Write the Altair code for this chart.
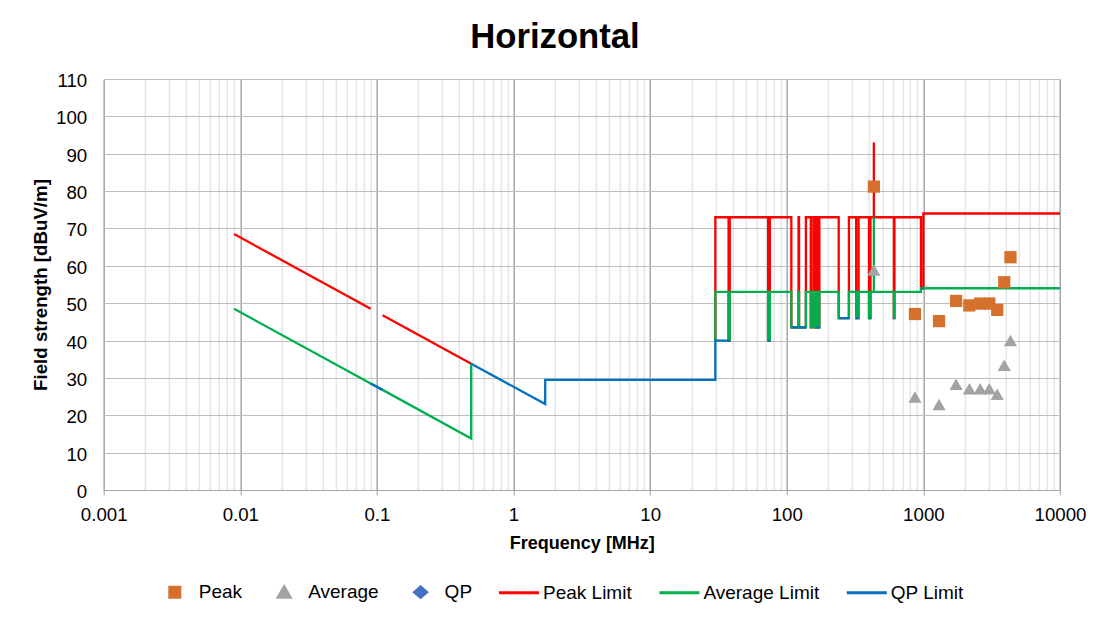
import altair as alt
import pandas as pd

# ---------------- data ----------------
series_names = ["Peak", "Average", "QP", "Peak Limit", "Average Limit", "QP Limit"]
series_colors = ["#D5712D", "#A3A3A3", "#4472C4", "#FF0000", "#00B050", "#0070C0"]
# legend glyphs as unit-box SVG paths (box = 40 px wide in the legend)
legend_glyphs = [
    "M-0.25,-0.25L0.25,-0.25L0.25,0.25L-0.25,0.25Z",
    "M0,-0.26L0.3,0.26L-0.3,0.26Z",
    "M0,-0.26L0.3,0L0,0.26L-0.3,0Z",
    "M-1,0L1,0",
    "M-1,0L1,0",
    "M-1,0L1,0",
]
legend_stroke = ["transparent", "transparent", "transparent", "#FF0000", "#00B050", "#0070C0"]

peak_freq = [433.92, 867.84, 1301.76, 1735.68, 2169.6, 2603.52, 3037.44, 3471.36, 3905.28, 4339.2]
peak_level = [81.2, 47.1, 45.2, 50.6, 49.4, 49.9, 49.9, 48.2, 55.6, 62.3]

avg_freq = [433.92, 867.84, 1301.76, 1735.68, 2169.6, 2603.52, 3037.44, 3471.36, 3905.28, 4339.2]
avg_level = [58.9, 24.9, 22.9, 28.3, 27.1, 27.1, 27.1, 25.6, 33.4, 40.0]

# limit lines (None = break in the line)
peak_limit_freq = [0.009, 0.09, None, 0.11, 0.49, None,
                   30, 30, 37.5, 37.5, 38.25, 38.25, 73, 73, 74.6, 74.6, 74.8, 74.8, 75.2, 75.2,
                   108, 108, 121.94, 121.94, 123, 123, 138, 138,
                   149.9, 149.9, 150.05, 150.05, 156.52475, 156.52475, 156.52525, 156.52525,
                   156.7, 156.7, 156.9, 156.9, 162.0125, 162.0125, 167.17, 167.17, 167.72, 167.72, 173.2, 173.2,
                   240, 240, 285, 285, 322, 322, 335.4, 335.4, 399.9, 399.9, 410, 410,
                   433.92, 433.92, 433.92, 608, 608, 614, 614, 960, 960, 1000, 1000, 10000]
peak_limit_level = [68.5, 48.5, None, 46.8, 33.8, None,
                    40, 73, 73, 40, 40, 73, 73, 40, 40, 73, 73, 40, 40, 73,
                    73, 43.5, 43.5, 73, 73, 43.5, 43.5, 73,
                    73, 43.5, 43.5, 73, 73, 43.5, 43.5, 73,
                    73, 43.5, 43.5, 73, 73, 43.5, 43.5, 73, 73, 43.5, 43.5, 73,
                    73, 46, 46, 73, 73, 46, 46, 73, 73, 46, 46, 73,
                    73, 93, 73, 73, 46, 46, 73, 73, 54, 54, 74, 74]

avg_limit_freq = [0.009, 0.09, 0.11, 0.49, 0.49, None,
                  30, 30, 37.5, 37.5, 38.25, 38.25, 73, 73, 74.6, 74.6, 74.8, 74.8, 75.2, 75.2,
                  108, 108, 121.94, 121.94, 123, 123, 138, 138,
                  149.9, 149.9, 150.05, 150.05, 156.52475, 156.52475, 156.52525, 156.52525,
                  156.7, 156.7, 156.9, 156.9, 162.0125, 162.0125, 167.17, 167.17, 167.72, 167.72, 173.2, 173.2,
                  240, 240, 285, 285, 322, 322, 335.4, 335.4, 399.9, 399.9, 410, 410,
                  433.92, 433.92, 433.92, 608, 608, 614, 614, 960, 960, 10000]
avg_limit_level = [48.5, 28.5, 26.8, 13.8, 33.8, None,
                   40, 53, 53, 40, 40, 53, 53, 40, 40, 53, 53, 40, 40, 53,
                   53, 43.5, 43.5, 53, 53, 43.5, 43.5, 53,
                   53, 43.5, 43.5, 53, 53, 43.5, 43.5, 53,
                   53, 43.5, 43.5, 53, 53, 43.5, 43.5, 53, 53, 43.5, 43.5, 53,
                   53, 46, 46, 53, 53, 46, 46, 53, 53, 46, 46, 53,
                   53, 73, 53, 53, 46, 46, 53, 53, 54, 54]

qp_limit_freq = [0.09, 0.11, None, 0.49, 1.705, 1.705, 30, 30, 38.25, None,
                 73, 75.2, None, 108, 121.94, None, 123, 138, None,
                 149.9, 150.05, None, 156.52475, 156.52525, None, 156.7, 156.9, None,
                 162.0125, 167.17, None, 167.72, 173.2, None,
                 240, 285, None, 322, 335.4, None, 399.9, 410, None, 608, 614, None, 960, 1000]
qp_limit_level = [28.5, 26.8, None, 33.8, 23.0, 29.5, 29.5, 40, 40, None,
                  40, 40, None, 43.5, 43.5, None, 43.5, 43.5, None,
                  43.5, 43.5, None, 43.5, 43.5, None, 43.5, 43.5, None,
                  43.5, 43.5, None, 43.5, 43.5, None,
                  46, 46, None, 46, 46, None, 46, 46, None, 46, 46, None, 54, 54]

x_major = [0.001, 0.01, 0.1, 1, 10, 100, 1000, 10000]
y_ticks = [0, 10, 20, 30, 40, 50, 60, 70, 80, 90, 100, 110]

# ---------------- tables ----------------
def line_table(name, freqs, levels):
    rows, seg = [], 0
    for i, (f, v) in enumerate(zip(freqs, levels)):
        if f is None:
            seg += 1
            continue
        rows.append({"series": name, "freq": f, "level": v, "key": f"{name}-{seg}", "idx": i})
    return pd.DataFrame(rows)

peak_limit_df = line_table("Peak Limit", peak_limit_freq, peak_limit_level)
avg_limit_df = line_table("Average Limit", avg_limit_freq, avg_limit_level)
qp_limit_df = line_table("QP Limit", qp_limit_freq, qp_limit_level)
peak_df = pd.DataFrame({"series": "Peak", "freq": peak_freq, "level": peak_level})
avg_df = pd.DataFrame({"series": "Average", "freq": avg_freq, "level": avg_level})

x_values = [m * k for m in x_major[:-1] for k in range(1, 10)] + [x_major[-1]]


def by_series(values):
    """Vega expression choosing a value per legend entry."""
    expr = "'transparent'"
    for name, v in reversed(list(zip(series_names, values))):
        expr = f"(datum.value == '{name}' ? '{v}' : {expr})"
    return expr


FONT = "Liberation Sans"
decade_test = "abs(log(datum.value)/LN10 - round(log(datum.value)/LN10)) < 1e-6"

x_enc = alt.X(
    "freq:Q",
    scale=alt.Scale(type="log", domain=[0.001, 10000]),
    title="Frequency [MHz]",
    axis=alt.Axis(
        values=x_values,
        format="~g",
        labelExpr=f"({decade_test}) ? datum.label : ''",
        labelOverlap=False,
        labelFlush=False,
        labelFont=FONT, labelFontSize=18.7, labelColor="#000000",
        labelPadding=10.5,
        grid=True,
        gridColor={"condition": {"test": decade_test, "value": "#A6A6A6"}, "value": "#D9D9D9"},
        gridWidth={"condition": {"test": decade_test, "value": 1.5}, "value": 1},
        ticks=True, tickSize=5,
        tickColor={"condition": {"test": decade_test, "value": "#A6A6A6"}, "value": "rgba(0,0,0,0)"},
        domain=True, domainColor="#A6A6A6", domainWidth=1,
        titleFont=FONT, titleFontSize=18, titleFontWeight="bold", titleColor="#000000",
        titleBaseline="alphabetic", titleY=58.3, titleX=478.15, titleAlign="center",
    ),
)
y_enc = alt.Y(
    "level:Q",
    scale=alt.Scale(domain=[0, 110]),
    title="Field strength  [dBuV/m]",
    axis=alt.Axis(
        values=y_ticks,
        labelFont=FONT, labelFontSize=18.7, labelColor="#000000",
        labelPadding=17, labelOffset=1.5,
        grid=True, gridColor="#BFBFBF", gridWidth=1,
        ticks=False, domain=False,
        titleFont=FONT, titleFontSize=18.7, titleFontWeight="bold", titleColor="#000000",
        titleAngle=-90, titleBaseline="alphabetic", titleAlign="center",
        titleX=-57.2, titleY=205.5,
    ),
)

legend = alt.Legend(
    title=None, orient="none", direction="horizontal", columns=6,
    legendX=49.6, legendY=491.5, padding=0,
    labelOffset=2.5, columnPadding=20.4,
    labelFont=FONT, labelFontSize=19, labelColor="#000000",
    symbolSize=1600, symbolStrokeWidth=3,
    symbolType={"expr": by_series(legend_glyphs)},
    symbolFillColor={"expr": by_series(series_colors)},
    symbolStrokeColor={"expr": by_series(legend_stroke)},
    symbolOpacity=1,
)

color_enc = alt.Color("series:N", scale=alt.Scale(domain=series_names, range=series_colors), legend=legend)


def limit_layer(df):
    return alt.Chart(df).mark_line(strokeWidth=2.3).encode(
        x=x_enc, y=y_enc, color=color_enc, detail="key:N", order="idx:Q",
    )


red = limit_layer(peak_limit_df)
green = limit_layer(avg_limit_df)
blue = limit_layer(qp_limit_df)

peaks = alt.Chart(peak_df).mark_point(filled=True, shape="square", size=150, opacity=1).encode(
    x=x_enc, y=y_enc, color=color_enc,
)
avgs = alt.Chart(avg_df).mark_point(filled=True, shape="triangle-up", size=175, opacity=1).encode(
    x=x_enc, y=y_enc, color=color_enc,
)

chart = alt.layer(red, green, blue, peaks, avgs).properties(
    width=956.3,
    height=411,
    autosize=alt.AutoSizeParams(type="none"),
    padding={"left": 95.7, "top": 71, "right": 33, "bottom": 118},
    title=alt.TitleParams(
        "Horizontal", font=FONT, fontSize=34.7, fontWeight="bold", color="#000000",
        anchor="middle", dx=-26.9, offset=16,
    ),
).configure_view(stroke=None).configure(background="#FFFFFF")

chart.save("out.html", embed_options={"renderer": "svg", "actions": False})
